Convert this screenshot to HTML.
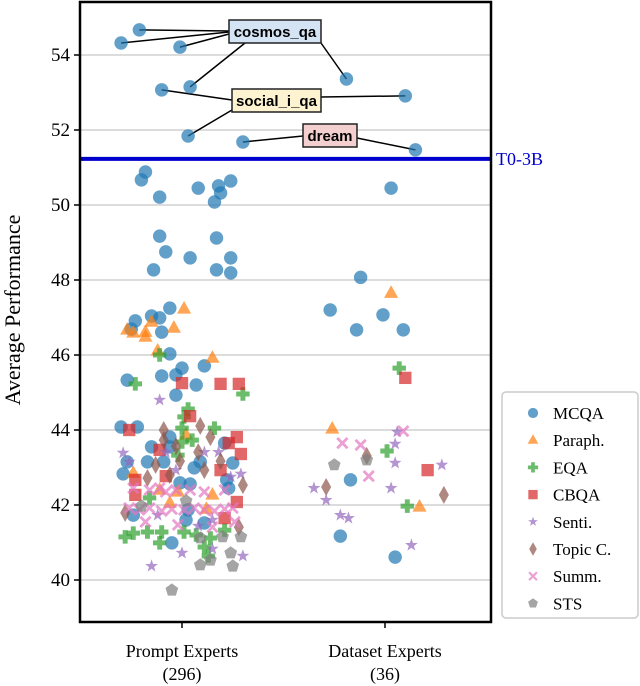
<!DOCTYPE html>
<html><head><meta charset="utf-8">
<style>
body{margin:0;background:#fff;}
svg{display:block;font-family:"Liberation Serif",serif;}
.ann{font-family:"Liberation Sans",sans-serif;font-weight:bold;font-size:15px;}
</style></head>
<body>
<svg id="chart" width="640" height="686">
</svg>
<script>
const categories = ["Prompt Experts\n(296)", "Dataset Experts\n(36)"];
const yTicks = [40, 42, 44, 46, 48, 50, 52, 54];
const t0Value = 51.23;
const seriesNames = ["MCQA","Paraph.","EQA","CBQA","Senti.","Topic C.","Summ.","STS"];
// each point: [group, jitter, value]
const mcqa = [[0,-.30,54.32],[0,-.21,54.67],[0,-.01,54.21],[0,.04,53.15],[0,-.10,53.07],[0,.03,51.84],[0,.30,51.68],
[0,-.18,50.88],[0,-.20,50.67],[0,-.11,50.21],[0,-.11,49.17],[0,-.14,48.27],[0,-.08,48.75],[0,.04,48.59],[0,.08,50.45],[0,.18,50.51],[0,.19,50.32],[0,.24,50.64],[0,.16,50.08],[0,.17,49.12],[0,.24,48.59],[0,.24,48.19],[0,.17,48.27],
[0,-.06,47.25],[0,-.15,47.04],[0,-.11,46.99],[0,-.23,46.91],[0,-.25,46.69],[0,-.10,46.61],[0,-.06,46.03],[0,.00,45.65],[0,.11,45.71],[0,-.27,45.33],[0,-.10,45.44],[0,-.03,45.47],[0,.07,45.20],[0,-.03,44.93],
[0,-.30,44.08],[0,-.22,44.08],[0,-.06,43.81],[0,-.15,43.55],[0,-.06,43.55],[0,.21,43.65],[0,-.27,43.15],[0,-.17,43.15],[0,-.09,43.15],[0,.06,42.99],[0,.09,43.15],[0,.25,43.12],[0,-.29,42.83],[0,.22,42.67],[0,.23,42.45],[0,-.01,42.59],[0,.04,42.56],[0,-.24,41.73],[0,.03,41.87],[0,.02,41.60],[0,.11,41.52],[0,-.05,40.99],
[1,-.19,53.36],[1,.10,52.91],[1,.15,51.47],[1,.03,50.45],[1,-.12,48.07],[1,-.27,47.20],[1,-.14,46.67],[1,-.01,47.07],[1,.09,46.67],[1,-.17,42.67],[1,-.22,41.17],[1,.05,40.61]];
const paraph = [[0,-.27,46.67],[0,-.24,46.59],[0,-.18,46.61],[0,-.18,46.48],[0,-.15,46.88],[0,.01,47.23],[0,-.04,46.72],[0,-.12,46.11],[0,.15,45.92],[0,.02,43.87],[0,-.02,42.35],[0,.15,42.27],[0,-.24,42.85],[0,.12,41.89],[0,-.06,42.05],[0,-.11,42.40],
[1,.03,47.65],[1,-.26,44.03],[1,.17,41.95]];
const eqa = [[0,-.11,46.00],[0,-.23,45.23],[0,.30,44.96],[0,.03,44.56],[0,.01,44.35],[0,.00,44.05],[0,.16,44.05],[0,.00,43.68],[0,.05,43.73],[0,-.02,43.33],[0,-.28,41.15],[0,-.24,41.25],[0,-.17,41.28],[0,-.10,41.28],[0,.01,41.28],[0,.07,41.20],[0,.14,41.12],[0,-.11,40.99],[0,.11,40.88],[0,.13,40.64],[0,.21,41.33],[0,-.16,42.19],
[1,.07,45.65],[1,.01,43.44],[1,.11,41.97]];
const cbqa = [[0,.00,45.25],[0,.19,45.23],[0,.28,45.23],[0,-.26,44.00],[0,.04,44.37],[0,.27,43.81],[0,.23,43.65],[0,.29,43.36],[0,-.11,43.47],[0,.19,42.93],[0,.27,42.08],[0,.21,41.65],[0,-.23,42.67],[0,-.08,42.77],[0,-.23,42.27],
[1,.10,45.39],[1,.21,42.93]];
const senti = [[0,-.11,44.80],[0,-.29,43.39],[0,-.08,43.41],[0,.11,43.41],[0,.18,43.41],[0,.29,42.83],[0,.24,42.75],[0,-.15,40.37],[0,.00,40.72],[0,.15,40.83],[0,.30,40.64],[0,.15,41.60],[0,-.12,41.73],[0,.08,41.44],[0,-.26,43.15],[0,-.03,42.93],
[1,-.35,42.45],[1,-.29,42.13],[1,-.22,41.73],[1,-.18,41.65],[1,.05,43.63],[1,.05,43.12],[1,.28,43.07],[1,.13,40.93],[1,.03,42.45],[1,.06,43.95]];
const topic = [[0,-.09,44.00],[0,-.09,43.73],[0,.09,44.11],[0,.14,43.81],[0,-.03,43.57],[0,.08,43.41],[0,.19,43.17],[0,-.01,43.17],[0,.30,42.53],[0,-.28,41.79],[0,.28,41.41],[0,-.06,42.80],[0,-.13,43.07],[0,.11,42.93],[0,-.17,42.72],
[1,-.29,42.48],[1,-.09,43.31],[1,.29,42.27]];
const summ = [[0,-.24,42.45],[0,-.16,42.40],[0,-.11,42.45],[0,-.03,42.40],[0,.04,42.40],[0,.11,42.35],[0,-.26,41.92],[0,-.21,41.87],[0,-.16,41.92],[0,-.10,41.84],[0,-.05,41.89],[0,.01,41.87],[0,.06,41.92],[0,.11,41.87],[0,.16,41.84],[0,.21,41.89],[0,.25,41.92],[0,-.18,41.55],[0,-.02,41.47],[0,.15,41.41],[0,-.08,42.35],[0,.21,42.40],[0,.26,41.55],
[1,-.21,43.65],[1,-.08,42.77],[1,.09,43.97],[1,-.12,43.60]];
const sts = [[0,-.05,39.73],[0,.09,41.12],[0,.20,41.15],[0,.29,41.15],[0,.09,40.40],[0,.14,40.53],[0,.24,40.72],[0,.25,40.37],[0,-.20,41.97],[0,.02,42.11],
[1,-.25,43.07],[1,-.09,43.20]];
// annotations: label -> indices into mcqa
const annCosmos = [0,1,2,3,59];
const annSocial = [4,5,60];
const annDream = [6,61];

const NS="http://www.w3.org/2000/svg";
const svg=document.getElementById('chart');
const L=80,R=491,T=2,B=622;
const y=v=>55+(54-v)*37.5;
const x=(g,j)=>182+g*203+j*203;
function mk(tag,attrs,parent){const e=document.createElementNS(NS,tag);for(const k in attrs)e.setAttribute(k,attrs[k]);(parent||svg).appendChild(e);return e;}

yTicks.forEach(t=>{
  const g=mk('line',{x1:L,x2:R,y1:y(t),y2:y(t),stroke:'#b8b8b8','stroke-width':1});
  
  
  const tk=mk('line',{x1:L-6,x2:L,y1:y(t),y2:y(t),stroke:'#000','stroke-width':1.5});
  
  
  const tx=mk('text',{x:L-10,y:y(t)+6,'text-anchor':'end','font-size':19});
  tx.textContent=t;
  
  
});
categories.forEach((c,i)=>{
  const cx=x(i,0);
  const tk=mk('line',{x1:cx,x2:cx,y1:B,y2:B+6,stroke:'#000','stroke-width':1.5});
  
  
  const lines=c.split('\n');
  lines.forEach((ln,k)=>{
    const tx=mk('text',{x:cx,y:657+k*23,'text-anchor':'middle','font-size':18});
    tx.textContent=ln;
    
    
  });
});
const yt=mk('text',{x:0,y:0,'text-anchor':'middle','font-size':22,transform:'translate(20,310) rotate(-90)'});
yt.textContent='Average Performance';



const colors={MCQA:'#1f77b4',"Paraph.":'#ff7f0e',EQA:'#2ca02c',CBQA:'#d62728',"Senti.":'#9467bd',"Topic C.":'#8c564b',"Summ.":'#e377c2',STS:'#7f7f7f'};
function marker(type,cx,cy,s,parent){
  const c=colors[type];let e;
  const base={fill:c,'fill-opacity':0.7,stroke:'none'};
  if(type==='MCQA'){e=mk('circle',Object.assign({cx,cy,r:6*s},base),parent);}
  else if(type==='Paraph.'){const r=7*s;e=mk('polygon',Object.assign({points:`${cx},${cy-r} ${cx+r*0.9},${cy+r*0.6} ${cx-r*0.9},${cy+r*0.6}`},base),parent);}
  else if(type==='EQA'){const a=6*s,b=2.2*s;e=mk('path',Object.assign({d:`M${cx-b},${cy-a}h${2*b}v${a-b}h${a-b}v${2*b}h${-(a-b)}v${a-b}h${-2*b}v${-(a-b)}h${-(a-b)}v${-2*b}h${a-b}z`},base),parent);}
  else if(type==='CBQA'){const a=5.5*s;e=mk('rect',Object.assign({x:cx-a,y:cy-a,width:2*a,height:2*a},base),parent);}
  else if(type==='Senti.'){let p=[];const ro=6*s,ri=2.4*s;for(let i=0;i<10;i++){const r=i%2?ri:ro,an=-Math.PI/2+i*Math.PI/5;p.push((cx+r*Math.cos(an)).toFixed(1)+','+(cy+r*Math.sin(an)).toFixed(1));}e=mk('polygon',Object.assign({points:p.join(' ')},base),parent);}
  else if(type==='Topic C.'){const a=8*s,b=4.5*s;e=mk('polygon',Object.assign({points:`${cx},${cy-a} ${cx+b},${cy} ${cx},${cy+a} ${cx-b},${cy}`},base),parent);}
  else if(type==='Summ.'){const a=5.5*s,b=1.8*s;e=mk('path',Object.assign({d:`M${cx-a},${cy-a+b}l${b},${-b}l${a-b},${a-b}l${a-b},${-(a-b)}l${b},${b}l${-(a-b)},${a-b}l${a-b},${a-b}l${-b},${b}l${-(a-b)},${-(a-b)}l${-(a-b)},${a-b}l${-b},${-b}l${a-b},${-(a-b)}z`},base),parent);}
  else {let p=[];const r=6*s;for(let i=0;i<5;i++){const an=-Math.PI/2+i*2*Math.PI/5;p.push((cx+r*Math.cos(an)).toFixed(1)+','+(cy+r*Math.sin(an)).toFixed(1));}e=mk('polygon',Object.assign({points:p.join(' ')},base),parent);}
  return e;
}
const t0=mk('line',{x1:L,x2:R,y1:y(t0Value),y2:y(t0Value),stroke:'#0000cc','stroke-width':4});


const t0t=mk('text',{x:496,y:y(t0Value)+6,'font-size':18,fill:'#0000cc'});
t0t.textContent='T0-3B';



function annLines(idx,ends){idx.forEach((i,k)=>{const p=mcqa[i];const l=mk('line',{x1:ends[k][0],y1:ends[k][1],x2:x(p[0],p[1]),y2:y(p[2]),stroke:'#000','stroke-width':1.5});

});}
annLines(annCosmos,[[229,32],[229,31],[229,34],[245,43],[321,43]]);
annLines(annSocial,[[232,100],[232,110],[321,97]]);
annLines(annDream,[[303,136],[357,138]]);

const order=[['MCQA',mcqa],['Paraph.',paraph],['EQA',eqa],['CBQA',cbqa],['Senti.',senti],['Topic C.',topic],['Summ.',summ],['STS',sts]];
order.forEach(([name,arr])=>{arr.forEach(p=>{const e=marker(name,x(p[0],p[1]),y(p[2]),1.12);

});});

function box(bx,by,w,h,fill,label,name){const r=mk('rect',{x:bx,y:by,width:w,height:h,fill:fill,stroke:'#222','stroke-width':1.5});


const t=mk('text',{x:bx+w/2,y:by+h/2+5.5,'text-anchor':'middle','class':'ann'});t.textContent=label;

}
box(229,20,92,23,'#d4e4f4','cosmos_qa','cosmos-qa-annotation');
box(232,89,89,23,'#fdf3d0','social_i_qa','social-i-qa-annotation');
box(303,124,54,23,'#f3d0cf','dream','dream-annotation');

const fr=mk('rect',{x:L,y:T,width:R-L,height:B-T,fill:'none',stroke:'#000','stroke-width':2.5});



const lg=mk('g',{});


const lr=mk('rect',{x:502,y:392,width:136,height:226,rx:4,fill:'#fff',stroke:'#ccc','stroke-width':1.5},lg);


seriesNames.forEach((n,i)=>{const cy=413+i*27.2;
const m=marker(n,533,cy,0.85,lg);


const t=mk('text',{x:553,y:cy+6,'font-size':17},lg);t.textContent=n;

});
</script>
</body></html>
